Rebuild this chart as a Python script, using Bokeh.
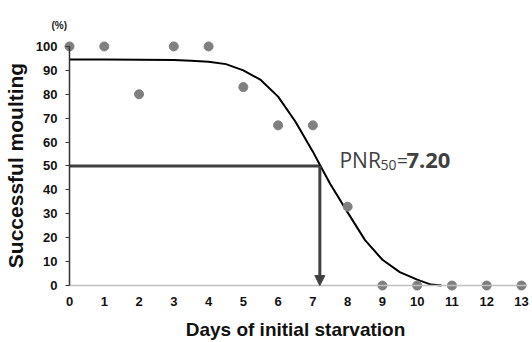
from bokeh.plotting import figure
from bokeh.models import (Range1d, FixedTicker, Label, Arrow, NormalHead, ColumnDataSource,
                          LinearAxis, Title)
from bokeh.embed import file_html
from bokeh.resources import INLINE

# Observed data
days = [0, 1, 2, 3, 4, 5, 6, 7, 8, 9, 10, 11, 12, 13]
moulting = [100, 100, 80, 100, 100, 83, 67, 67, 33, 0, 0, 0, 0, 0]

# Fitted curve
curve_x = [0, 1, 2, 3, 3.5, 4, 4.5, 5, 5.5, 6, 6.5, 7, 7.2, 7.5, 8, 8.5, 9, 9.5, 10, 10.4, 10.7]
curve_y = [94.5, 94.5, 94.4, 94.3, 94.0, 93.6, 92.6, 90.0, 86.0, 79.0, 68.5, 56.0, 50.5, 42.5,
           30.6, 19.0, 10.8, 5.6, 2.5, 0.4, 0]

pnr50 = 7.20
half = 50

x_ticks = list(range(0, 14))
y_ticks = list(range(0, 101, 10))

FONT = "Liberation Sans"
TXT = "#111111"

p = figure(width=532, height=342, output_backend="svg", toolbar_location=None,
           x_range=Range1d(-0.1726, 13.173), y_range=Range1d(-2.905, 103.32),
           min_border_left=63, min_border_right=5, min_border_top=38, min_border_bottom=48)
p.grid.visible = False
p.outline_line_color = None
p.background_fill_color = "white"
p.border_fill_color = "white"

# label-only axes at the frame edges
xa = p.xaxis[0]
xa.ticker = FixedTicker(ticks=x_ticks)
xa.axis_line_color = None
xa.major_tick_line_color = None
xa.minor_tick_line_color = None
xa.major_tick_out = 0
xa.major_tick_in = 0
xa.major_label_standoff = 4
xa.major_label_text_font = FONT
xa.major_label_text_font_style = "bold"
xa.major_label_text_font_size = "13px"
xa.major_label_text_color = TXT
xa.axis_label = "Days of initial starvation"
xa.axis_label_text_font = FONT
xa.axis_label_text_font_style = "bold"
xa.axis_label_text_font_size = "19px"
xa.axis_label_text_color = TXT
xa.axis_label_standoff = 10

ya = p.yaxis[0]
ya.ticker = FixedTicker(ticks=y_ticks)
ya.axis_line_color = None
ya.major_tick_line_color = None
ya.minor_tick_line_color = None
ya.major_tick_out = 0
ya.major_tick_in = 0
ya.major_label_standoff = 6
ya.major_label_text_font = FONT
ya.major_label_text_font_style = "bold"
ya.major_label_text_font_size = "13px"
ya.major_label_text_color = TXT
ya.axis_label = "Successful moulting"
ya.axis_label_text_font = FONT
ya.axis_label_text_font_style = "bold"
ya.axis_label_text_font_size = "21px"
ya.axis_label_text_color = TXT
ya.axis_label_standoff = 6

# axis lines placed at data zero
xline = LinearAxis(fixed_location=0, bounds=(0, 13.17), ticker=FixedTicker(ticks=x_ticks),
                   axis_line_color="#bfbfbf", axis_line_width=1.5,
                   major_tick_line_color=None, minor_tick_line_color=None,
                   major_label_text_font_size="0px", major_label_text_color=None)
p.add_layout(xline, "below")
yline = LinearAxis(fixed_location=0, bounds=(0, 100), ticker=FixedTicker(ticks=y_ticks),
                   axis_line_color="#333333", axis_line_width=1.5,
                   major_tick_line_color="#333333", major_tick_out=4, major_tick_in=0,
                   minor_tick_line_color=None,
                   major_label_text_font_size="0px", major_label_text_color=None)
p.add_layout(yline, "left")

# "(%)" unit above the y axis
p.add_layout(Title(text="(%)", align="left", offset=-12, standoff=15,
                   text_font=FONT, text_font_style="bold", text_font_size="10px",
                   text_color="#222222"), "above")

# reference lines
p.line([0, pnr50], [half, half], line_color="#404040", line_width=3)
p.add_layout(Arrow(x_start=pnr50, y_start=half, x_end=pnr50, y_end=0,
                   line_color="#404040", line_width=3,
                   end=NormalHead(size=10, fill_color="#404040", line_color="#404040", line_width=1)))

# curve
p.line(curve_x, curve_y, line_color="black", line_width=2)

# points
src = ColumnDataSource(dict(x=days, y=moulting))
p.scatter("x", "y", source=src, size=9, fill_color="#7f7f7f", line_color="#7f7f7f")

# PNR50 annotation
p.add_layout(Label(x=7.765, y=52.4, text="PNR", text_font="Open Sans",
                   text_font_size="21px", text_color="#404040", text_baseline="alphabetic"))
p.add_layout(Label(x=8.945, y=50.6, text="50", text_font="Open Sans",
                   text_font_size="14px", text_color="#404040", text_baseline="alphabetic"))
p.add_layout(Label(x=9.42, y=52.4, text="=", text_font="Open Sans",
                   text_font_size="19px", text_color="#404040", text_baseline="alphabetic"))
p.add_layout(Label(x=9.69, y=52.4, text=f"{pnr50:.2f}", text_font="Open Sans",
                   text_font_style="bold", text_font_size="22px", text_color="#404040",
                   text_baseline="alphabetic"))

open("out.html", "w").write(file_html(p, INLINE))
